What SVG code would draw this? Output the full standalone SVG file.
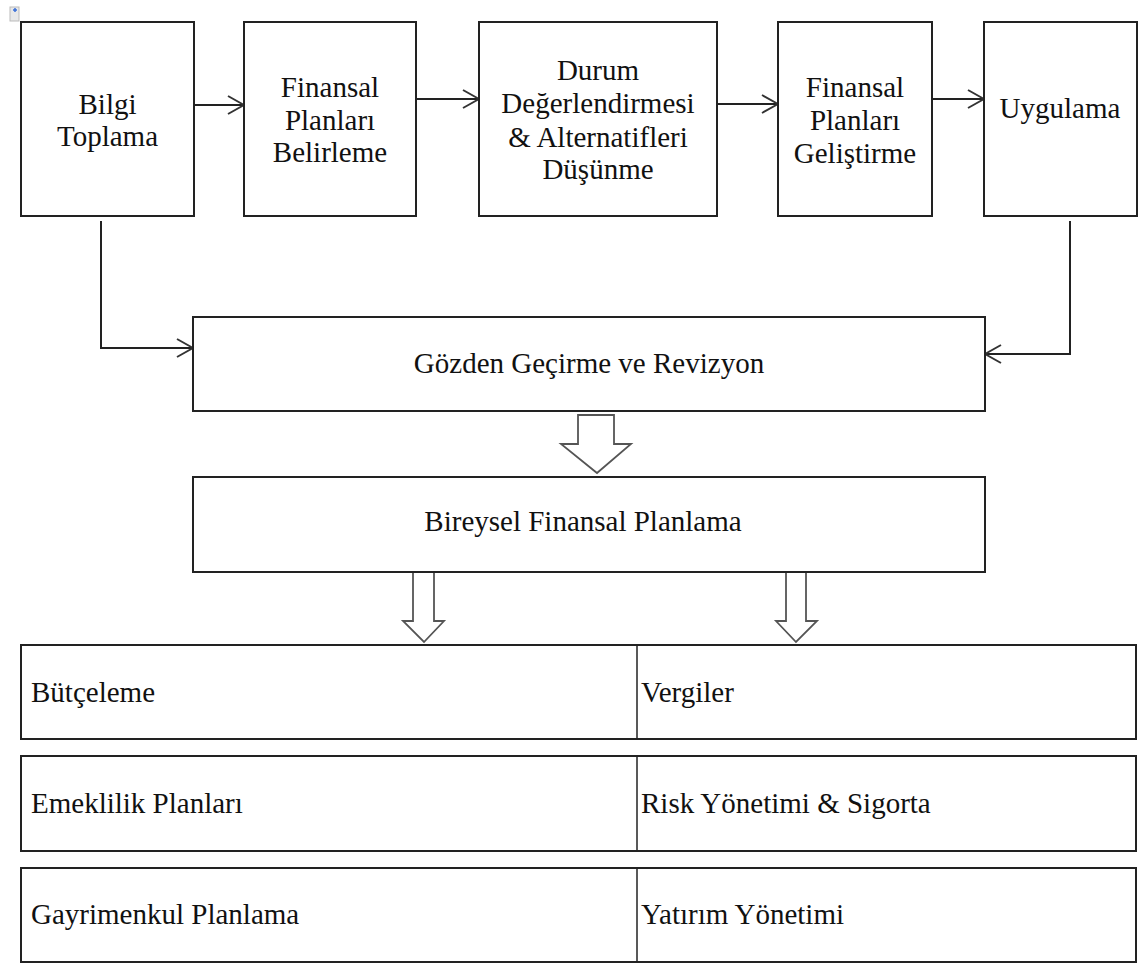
<svg xmlns="http://www.w3.org/2000/svg" width="1139" height="965" viewBox="0 0 1139 965">
<style>
.box{fill:#fff;stroke:#222;stroke-width:2}
.t{font-family:"Liberation Serif","Times New Roman",serif;font-size:29px;fill:#111}
.c{text-anchor:middle}
.conn{fill:none;stroke:#222;stroke-width:2}
.blk{fill:#fff;stroke:#555;stroke-width:1.8;stroke-linejoin:miter}
</style>
<defs>
<marker id="open" markerUnits="userSpaceOnUse" viewBox="0 0 18 20" refX="17" refY="10" markerWidth="18" markerHeight="20" orient="auto">
<path d="M1,1 L17,10 L1,19" fill="none" stroke="#333" stroke-width="2"/>
</marker>
</defs>
<g id="anchor">
<rect x="10" y="7" width="9" height="14" fill="#e8e8e8" stroke="#bbb" stroke-width="1"/>
<path d="M13,10 h4 M15,8 v4" stroke="#3a6fd8" stroke-width="1.5"/>
</g>
<g id="connectors">
<line class="conn" x1="194" y1="105" x2="244" y2="105" marker-end="url(#open)"/>
<line class="conn" x1="416" y1="99" x2="479" y2="99" marker-end="url(#open)"/>
<line class="conn" x1="717" y1="104" x2="778" y2="104" marker-end="url(#open)"/>
<line class="conn" x1="932" y1="99" x2="984" y2="99" marker-end="url(#open)"/>
<polyline class="conn" points="101,221 101,348 193,348" marker-end="url(#open)"/>
<polyline class="conn" points="1070,221 1070,354 985,354" marker-end="url(#open)"/>
<polygon class="blk" points="578,415 614,415 614,444 631,444 597,473 561,444 578,444"/>
<polygon class="blk" points="413,572 434,572 434,621 444,621 424,642 403,621 413,621"/>
<polygon class="blk" points="786,572 806,572 806,621 817,621 796,642 776,621 786,621"/>
</g>
<g id="bilgi">
<rect class="box" x="21" y="22" width="173" height="194"/>
<text class="t c" x="107.5" y="114">Bilgi</text>
<text class="t c" x="107.5" y="146">Toplama</text>
</g>
<g id="belirleme">
<rect class="box" x="244" y="22" width="172" height="194"/>
<text class="t c" x="330" y="97">Finansal</text>
<text class="t c" x="330" y="130">Planları</text>
<text class="t c" x="330" y="162">Belirleme</text>
</g>
<g id="durum">
<rect class="box" x="479" y="22" width="238" height="194"/>
<text class="t c" x="598" y="80">Durum</text>
<text class="t c" x="598" y="113">Değerlendirmesi</text>
<text class="t c" x="598" y="147">&amp; Alternatifleri</text>
<text class="t c" x="598" y="179">Düşünme</text>
</g>
<g id="gelistirme">
<rect class="box" x="778" y="22" width="154" height="194"/>
<text class="t c" x="855" y="97">Finansal</text>
<text class="t c" x="855" y="130">Planları</text>
<text class="t c" x="855" y="163">Geliştirme</text>
</g>
<g id="uygulama">
<rect class="box" x="984" y="22" width="153" height="194"/>
<text class="t c" x="1060" y="118">Uygulama</text>
</g>
<g id="gozden">
<rect class="box" x="193" y="317" width="792" height="94"/>
<text class="t c" x="589" y="373">Gözden Geçirme ve Revizyon</text>
</g>
<g id="bireysel">
<rect class="box" x="193" y="477" width="792" height="95"/>
<text class="t c" x="583" y="531" font-size="30">Bireysel Finansal Planlama</text>
</g>
<g id="row1">
<rect class="box" x="21" y="645" width="1115" height="94"/>
<line x1="637" y1="645" x2="637" y2="739" stroke="#222" stroke-width="1.5"/>
<text class="t" x="31" y="702">Bütçeleme</text>
<text class="t" x="641" y="702">Vergiler</text>
</g>
<g id="row2">
<rect class="box" x="21" y="756" width="1115" height="95"/>
<line x1="637" y1="756" x2="637" y2="851" stroke="#222" stroke-width="1.5"/>
<text class="t" x="31" y="813">Emeklilik Planları</text>
<text class="t" x="641" y="813">Risk Yönetimi &amp; Sigorta</text>
</g>
<g id="row3">
<rect class="box" x="21" y="868" width="1115" height="94"/>
<line x1="637" y1="868" x2="637" y2="962" stroke="#222" stroke-width="1.5"/>
<text class="t" x="31" y="924">Gayrimenkul Planlama</text>
<text class="t" x="641" y="924">Yatırım Yönetimi</text>
</g>
</svg>
